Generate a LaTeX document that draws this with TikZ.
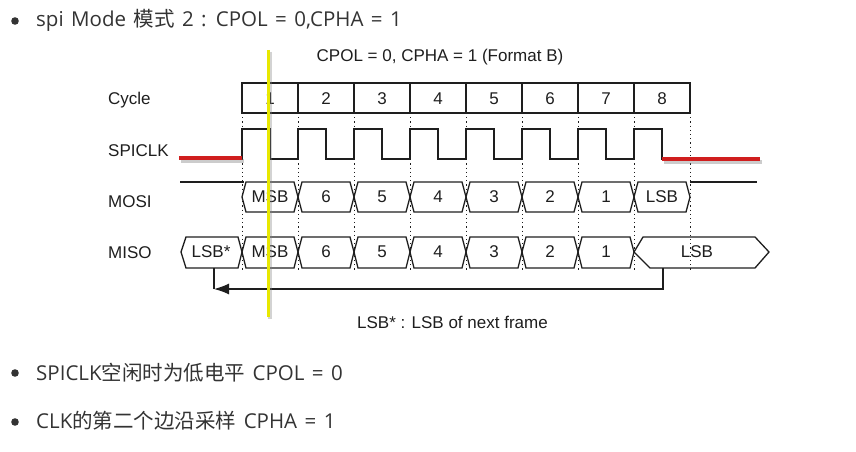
\documentclass[tikz,border=0pt]{standalone}
\usepackage{fontspec}
\setmainfont{Liberation Sans}
\newfontfamily\notefont[WordSpace=1.4]{Open Sans}
\newfontfamily\cjk{Noto Sans CJK SC}
\usetikzlibrary{arrows.meta}
\definecolor{ink}{HTML}{1E1E1E}
\definecolor{note}{HTML}{333333}
\definecolor{markred}{HTML}{D01E1E}
\definecolor{markyellow}{HTML}{E8E800}
\tikzset{
  lbl/.style={font=\fontsize{17}{20}\selectfont,text=ink,inner sep=0pt},
  bullettxt/.style={font=\notefont\fontsize{20.5}{24}\selectfont,text=note,inner sep=0pt,anchor=base west},
  sig/.style={draw=ink,line width=1.3pt},
  tick/.style={draw=ink,line width=0.9pt,dash pattern=on 1.2pt off 3pt},
  marker/.style={line width=3.5pt},
}
\begin{document}
\begin{tikzpicture}[x=1pt,y=-1pt,>={Latex[length=15pt,width=11pt]}]
\useasboundingbox (0,0) rectangle (856,452);

% bullets
\foreach \y in {21,373,422}
  \fill[note] (15,\y) circle (3.8);
\node[bullettxt] (note1) at (36,27) {spi Mode {\cjk 模式} 2 : CPOL = 0,CPHA = 1};
\node[bullettxt] (note2) at (36,380) {SPICLK{\cjk 空闲时为低电平} CPOL = 0};
\node[bullettxt] (note3) at (36,428) {CLK{\cjk 的第二个边沿采样} CPHA = 1};

% title and row names
\node[lbl,anchor=base] (title) at (440,62) {CPOL = 0, CPHA = 1 (Format B)};
\foreach \y/\s in {104/Cycle,156/SPICLK,207/MOSI,258/MISO}
  \node[lbl,anchor=base west] (row\s) at (108,\y) {\s};

% cycle counter
\draw[sig] (242,83) rectangle (690,113);
\foreach \c in {1,...,8}{
  \draw[sig] (186+56*\c,83) -- (186+56*\c,113);
  \node[lbl,anchor=base] (cyc\c) at (214+56*\c,104) {\c};
}

% dotted edges
\foreach \c in {0,...,8}
  \draw[tick] (242+56*\c,113) -- (242+56*\c,272);

% clock
\draw[sig] (242,159) \foreach \c in {0,...,7}{
  -- (242+56*\c,129) -- (270+56*\c,129) -- (270+56*\c,159) -- (298+56*\c,159)};

% MOSI
\draw[sig] (180,182) -- (244,182);
\draw[sig] (690,182) -- (757,182);
\foreach \c/\v in {0/MSB,1/6,2/5,3/4,4/3,5/2,6/1,7/LSB}{
  \draw[sig] (242+56*\c,197) -- (246+56*\c,182) -- (294+56*\c,182) -- (298+56*\c,197)
    -- (294+56*\c,212) -- (246+56*\c,212) -- cycle;
  \node[lbl] (mosi\c) at (270+56*\c,197) {\v};
}

% MISO
\draw[sig] (181,252) -- (186,237) -- (238,237) -- (242,252) -- (238,268) -- (186,268) -- cycle;
\node[lbl] (misostar) at (211,252) {LSB*};
\foreach \c/\v in {0/MSB,1/6,2/5,3/4,4/3,5/2,6/1}{
  \draw[sig] (242+56*\c,252) -- (246+56*\c,237) -- (294+56*\c,237) -- (298+56*\c,252)
    -- (294+56*\c,268) -- (246+56*\c,268) -- cycle;
  \node[lbl] (miso\c) at (270+56*\c,252) {\v};
}
\draw[sig] (634,252) -- (643,237) -- (755,237) -- (769,252) -- (755,268) -- (650,268) -- cycle;
\node[lbl] (misolsb) at (697,252) {LSB};

% wrap-around arrow
\coordinate (lsbfoot) at (663,268);
\coordinate (starfoot) at (214,268);
\coordinate (turn) at (214,289);
\draw[sig,->] (lsbfoot) |- (turn);
\draw[sig] (turn) -- (starfoot);
\node[lbl,anchor=base west] (footnote) at (357,328) {LSB* : LSB of next frame};

% markers
\draw[marker,gray,opacity=.4] (181,161) -- (244,161) (664,162) -- (762,162);
\draw[marker,markred] (179,158) -- (242,158) (662,159) -- (760,159);
\draw[line width=4pt,gray,opacity=.35] (270,52) -- (270,319);
\draw[line width=3pt,markyellow] (268,50) -- (268,317);
\end{tikzpicture}
\end{document}
